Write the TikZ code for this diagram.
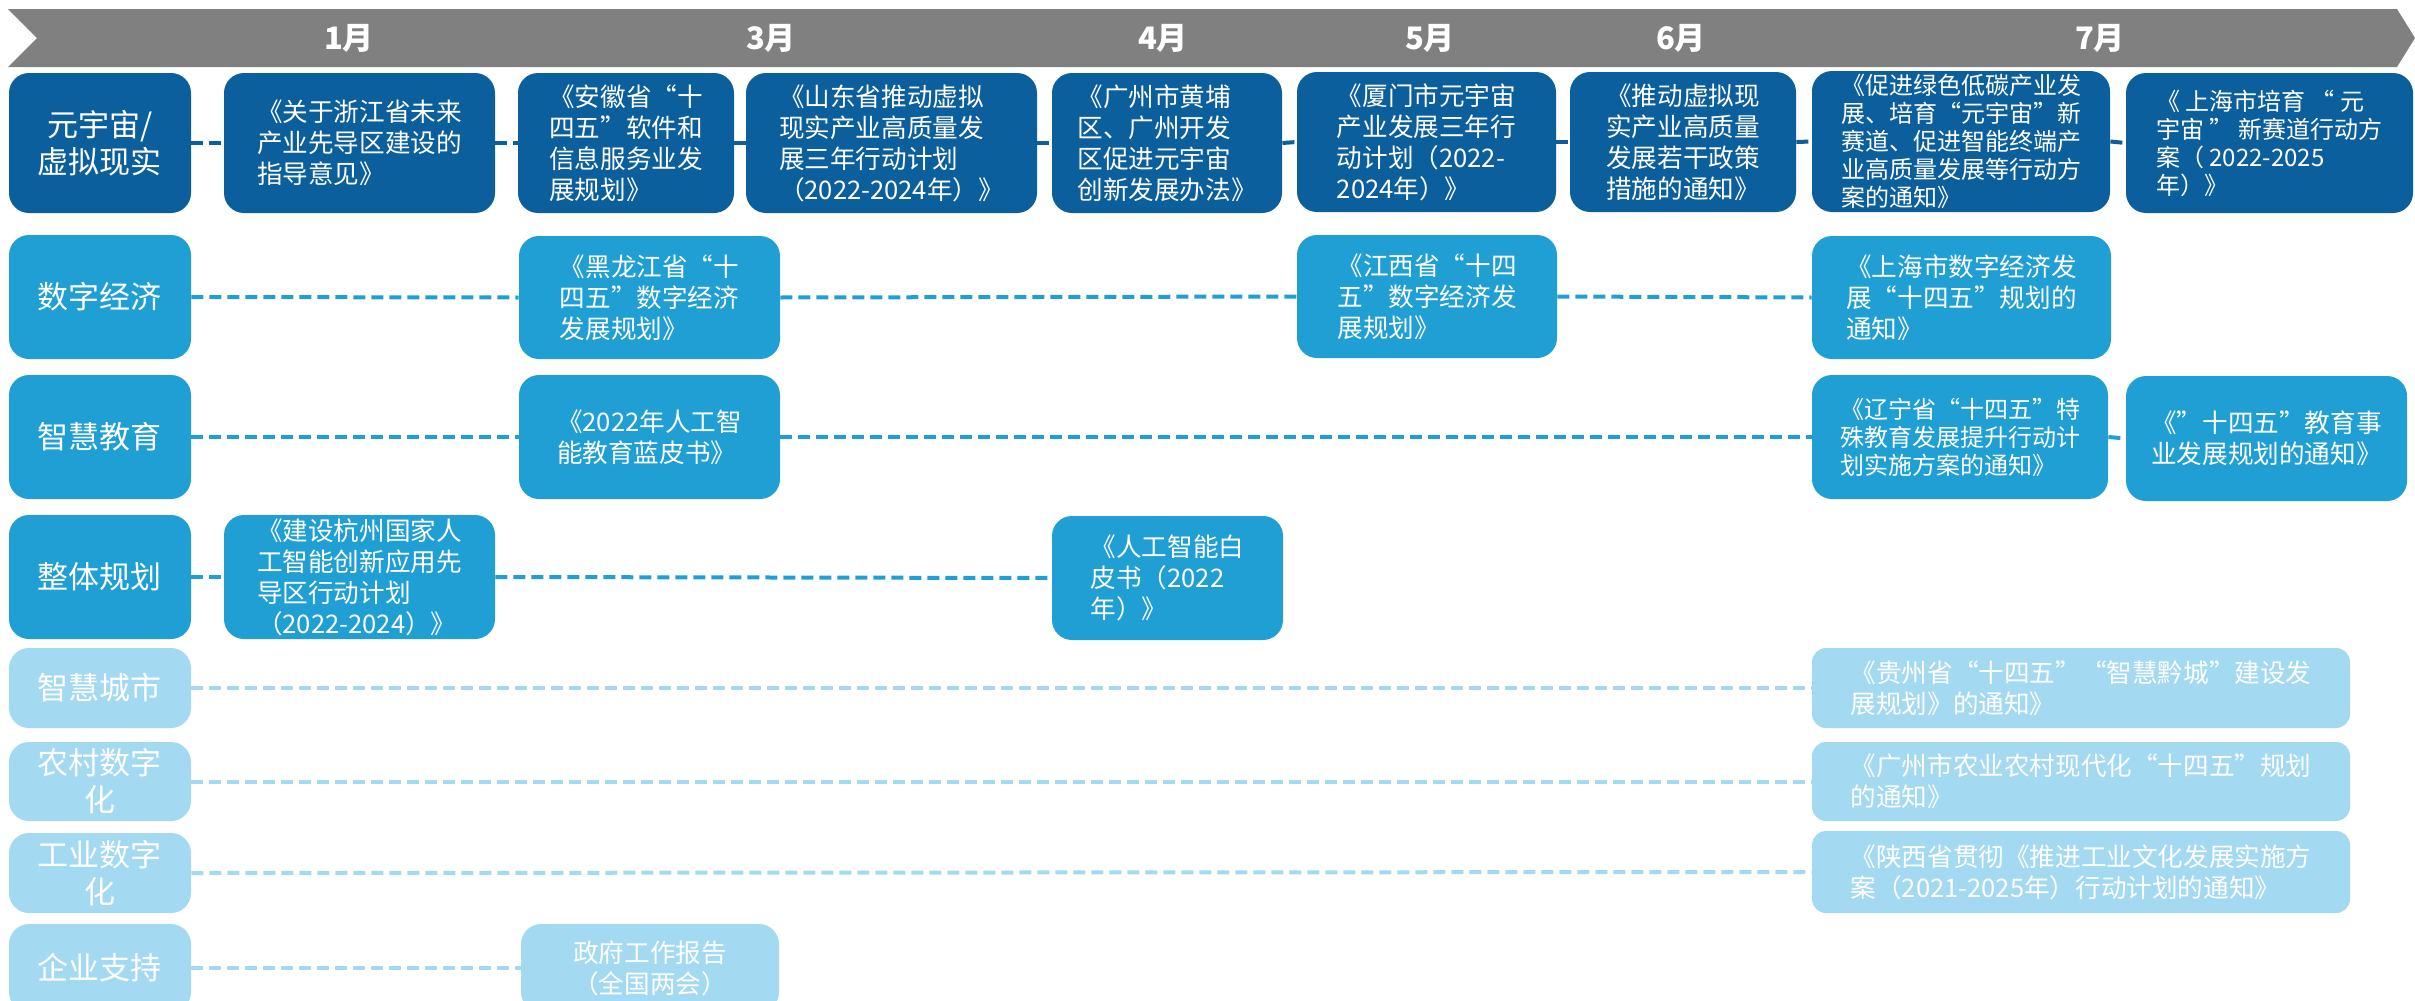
\documentclass[tikz,border=0pt]{standalone}
\usepackage{fontspec}
\setmainfont{Noto Sans CJK SC}
\definecolor{cDark}{RGB}{11,95,156}
\definecolor{cMid}{RGB}{31,159,211}
\definecolor{cLight}{RGB}{163,218,242}
\definecolor{cBanner}{RGB}{128,128,128}
\newcommand\ftx{\fontsize{12.8pt}{15.5pt}\selectfont}
\newcommand\ftsm{\fontsize{12pt}{14pt}\selectfont}
\newcommand\ftcat{\fontsize{15.5pt}{18.5pt}\selectfont}
\newcommand\ftmon{\fontsize{15.5pt}{18pt}\selectfont\bfseries}
\tikzset{
  bx/.style={rounded corners=10pt, text=white, align=left, inner sep=0pt, font=\ftx},
  catbx/.style={bx, align=center, font=\ftcat},
  dk/.style={fill=cDark},
  md/.style={fill=cMid},
  lt/.style={fill=cLight, rounded corners=7pt},
  small/.style={font=\ftsm},
  month/.style={text=white, font=\ftmon, inner sep=0pt},
  lnk/.style={line width=2pt, dash pattern=on 6pt off 3pt},
  lnkdk/.style={lnk, draw=cDark},
  lnkmd/.style={lnk, draw=cMid},
  lnklt/.style={lnk, draw=cLight},
}
\newcommand\pbx[7]{%
  \node[bx,#1,minimum width={(#4-#3)*0.5pt},minimum height={(#6-#5)*0.5pt}] (#2) at ({(#3+#4)/2},{(#5+#6)/2}) {#7};}
\begin{document}
\begin{tikzpicture}[x=0.5pt,y=-0.5pt]
\useasboundingbox (0,0) rectangle (2415,1001);
\clip (0,0) rectangle (2415,1001);
% banner
\fill[cBanner] (8,9) -- (2397,9) -- (2415,38) -- (2397,67) -- (8,67) -- (37,38) -- cycle;
\node[month] (m1) at (349,38) {1月};
\node[month] (m3) at (771,38) {3月};
\node[month] (m4) at (1163,38) {4月};
\node[month] (m5) at (1430,38) {5月};
\node[month] (m6) at (1681,38) {6月};
\node[month] (m7) at (2100,38) {7月};
% row 1
\pbx{dk,catbx}{cat1}{9}{191}{73}{213}{元宇宙/\\虚拟现实}
\pbx{dk}{r1a}{224}{495}{73}{213}{《关于浙江省未来\\产业先导区建设的\\指导意见》}
\pbx{dk}{r1b}{518}{734}{73}{213}{《安徽省“十\\四五”软件和\\信息服务业发\\展规划》}
\pbx{dk}{r1c}{746}{1037}{73}{213}{《山东省推动虚拟\\现实产业高质量发\\展三年行动计划\\（2022-2024年）》}
\pbx{dk}{r1d}{1052}{1282}{73}{213}{《广州市黄埔\\区、广州开发\\区促进元宇宙\\创新发展办法》}
\pbx{dk}{r1e}{1297}{1556}{72}{212}{《厦门市元宇宙\\产业发展三年行\\动计划（2022-\\2024年）》}
\pbx{dk}{r1f}{1570}{1796}{72}{212}{《推动虚拟现\\实产业高质量\\发展若干政策\\措施的通知》}
\pbx{dk,small}{r1g}{1812}{2110}{71}{212}{《促进绿色低碳产业发\\展、培育“元宇宙”新\\赛道、促进智能终端产\\业高质量发展等行动方\\案的通知》}
\pbx{dk,small}{r1h}{2126}{2413}{73}{213}{《 上海市培育 “ 元\\宇宙 ” 新赛道行动方\\案（ 2022-2025\\年）》}
% row 2
\pbx{md,catbx}{cat2}{9}{191}{235}{359}{数字经济}
\pbx{md}{r2a}{519}{780}{236}{359}{《黑龙江省“十\\四五”数字经济\\发展规划》}
\pbx{md}{r2b}{1297}{1557}{235}{358}{《江西省“十四\\五”数字经济发\\展规划》}
\pbx{md}{r2c}{1812}{2111}{236}{359}{《上海市数字经济发\\展“十四五”规划的\\通知》}
% row 3
\pbx{md,catbx}{cat3}{9}{191}{375}{499}{智慧教育}
\pbx{md}{r3a}{519}{780}{375}{499}{《2022年人工智\\能教育蓝皮书》}
\pbx{md,small}{r3b}{1812}{2108}{375}{499}{《辽宁省“十四五”特\\殊教育发展提升行动计\\划实施方案的通知》}
\pbx{md}{r3c}{2126}{2407}{376}{501}{《"十四五”教育事\\业发展规划的通知》}
% row 4
\pbx{md,catbx}{cat4}{9}{191}{515}{639}{整体规划}
\pbx{md}{r4a}{224}{495}{515}{639}{《建设杭州国家人\\工智能创新应用先\\导区行动计划\\（2022-2024）》}
\pbx{md}{r4b}{1052}{1283}{516}{640}{《人工智能白\\皮书（2022\\年）》}
% row 5-8
\pbx{lt,catbx}{cat5}{9}{191}{648}{728}{智慧城市}
\pbx{lt}{r5a}{1812}{2350}{648}{728}{《贵州省“十四五”“智慧黔城”建设发\\展规划》的通知》}
\pbx{lt,catbx}{cat6}{9}{191}{742}{821}{农村数字\\化}
\pbx{lt}{r6a}{1812}{2350}{742}{821}{《广州市农业农村现代化“十四五”规划\\的通知》}
\pbx{lt,catbx}{cat7}{9}{191}{833}{913}{工业数字\\化}
\pbx{lt}{r7a}{1812}{2350}{831}{913}{《陕西省贯彻《推进工业文化发展实施方\\案（2021-2025年）行动计划的通知》}
\pbx{lt,catbx,rounded corners=10pt}{cat8}{9}{191}{924}{1012}{企业支持}
\pbx{lt,align=center,rounded corners=10pt}{r8a}{521}{779}{924}{1012}{政府工作报告\\（全国两会）}
% connectors
\draw[lnkdk] (cat1.east) -- (r1a.west);
\draw[lnkdk] (r1a.east) -- (r1b.west);
\draw[lnkdk] (r1b.east) -- (r1c.west);
\draw[lnkdk] (r1c.east) -- (r1d.west);
\draw[lnkdk] (r1d.east) -- (r1e.west);
\draw[lnkdk] (r1e.east) -- (r1f.west);
\draw[lnkdk] (r1f.east) -- (r1g.west);
\draw[lnkdk] (r1g.east) -- (r1h.west);
\draw[lnkmd] (cat2.east) -- (r2a.west);
\draw[lnkmd] (r2a.east) -- (r2b.west);
\draw[lnkmd] (r2b.east) -- (r2c.west);
\draw[lnkmd] (cat3.east) -- (r3a.west);
\draw[lnkmd] (r3a.east) -- (r3b.west);
\draw[lnkmd] (r3b.east) -- (r3c.west);
\draw[lnkmd] (cat4.east) -- (r4a.west);
\draw[lnkmd] (r4a.east) -- (r4b.west);
\draw[lnklt] (cat5.east) -- (r5a.west);
\draw[lnklt] (cat6.east) -- (r6a.west);
\draw[lnklt] (cat7.east) -- (r7a.west);
\draw[lnklt] (cat8.east) -- (r8a.west);
\end{tikzpicture}
\end{document}
